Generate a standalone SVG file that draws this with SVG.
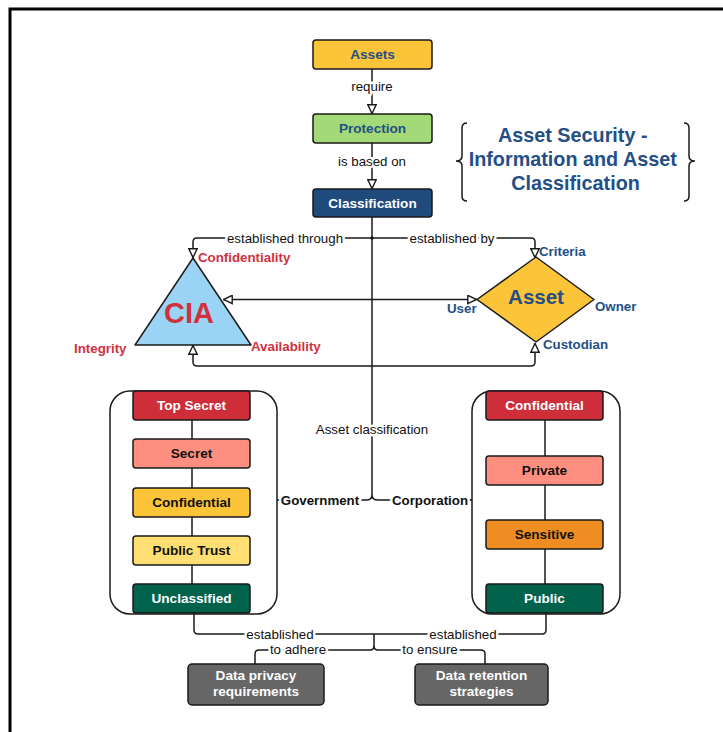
<svg xmlns="http://www.w3.org/2000/svg" width="723" height="732" viewBox="0 0 723 732">
  <style>
    text { font-family: "Liberation Sans", Arial, sans-serif; }
    .box { stroke: #1a1a1a; stroke-width: 1.5; }
    .bl { font-size: 13.6px; font-weight: bold; text-anchor: middle; }
    .w { fill: #ffffff; }
    .k { fill: #111111; }
    .blue { fill: #234f86; }
    .red { fill: #d1313d; }
    .lbl { font-size: 13.3px; fill: #111111; text-anchor: middle; stroke: #ffffff; stroke-width: 5; paint-order: stroke; stroke-linejoin: round; }
    .blbl { font-size: 13.3px; font-weight: bold; fill: #111111; text-anchor: middle; stroke: #ffffff; stroke-width: 5; paint-order: stroke; stroke-linejoin: round; }
    .ln { fill: none; stroke: #1a1a1a; stroke-width: 1.5; }
    .tag { font-size: 13.3px; font-weight: bold; }
  </style>
  <defs>
    <marker id="open" viewBox="0 0 10 10" refX="10" refY="5" markerWidth="11" markerHeight="10" orient="auto-start-reverse" markerUnits="userSpaceOnUse">
      <path d="M0.8,0.8 L9.5,5 L0.8,9.2 Z" fill="#ffffff" stroke="#1a1a1a" stroke-width="1.4"/>
    </marker>
    <marker id="small" viewBox="0 0 10 10" refX="10" refY="5" markerWidth="5" markerHeight="5" orient="auto-start-reverse" markerUnits="userSpaceOnUse">
      <path d="M0,0 L10,5 L0,10 Z" fill="#1a1a1a"/>
    </marker>
  </defs>

  <rect width="723" height="732" fill="#ffffff"/>
  <!-- page frame -->
  <rect x="10" y="9" width="760" height="760" fill="none" stroke="#000000" stroke-width="3"/>

  <!-- connectors -->
  <g id="connectors">
    <line class="ln" x1="372" y1="69" x2="372" y2="114" marker-end="url(#open)"/>
    <line class="ln" x1="372" y1="143" x2="372" y2="189" marker-end="url(#open)"/>
    <!-- trunk from Classification down to the Government / Corporation split -->
    <path class="ln" d="M372,217 V495"/>
    <path class="ln" d="M277,500 H366 Q372,500 372,495 Q372,500 378,500 H472" marker-start="url(#small)" marker-end="url(#small)"/>
    <!-- Classification to CIA and Asset -->
    <path class="ln" d="M372,238 H197 Q193,238 193,242 V258" marker-end="url(#open)"/>
    <path class="ln" d="M372,238 H531 Q535,238 535,242 V258" marker-end="url(#open)"/>
    <circle cx="372" cy="238" r="1.8" fill="#1a1a1a"/>
    <!-- CIA and Asset links -->
    <line class="ln" x1="223" y1="299.5" x2="477" y2="299.5" marker-start="url(#open)" marker-end="url(#open)"/>
    <path class="ln" d="M193,345 V362 Q193,366 197,366 H531 Q535,366 535,362 V343" marker-start="url(#open)" marker-end="url(#open)"/>
    <!-- level chains -->
    <path class="ln" d="M192,420 V439 M192,468 V488 M192,517 V536 M192,565 V584"/>
    <path class="ln" d="M545,420 V456 M545,485 V520 M545,549 V584"/>
    <!-- bottom outcomes -->
    <path class="ln" d="M194,613 V630 Q194,634 198,634 H542 Q546,634 546,630 V613"/>
    <path class="ln" d="M374,634 V646 Q374,650 370,650 H259 Q255,650 255,654 V664"/>
    <path class="ln" d="M374,646 Q374,650 378,650 H481 Q485,650 485,654 V664"/>
    <text class="lbl" x="372" y="91">require</text>
    <text class="lbl" x="372" y="166">is based on</text>
    <text class="lbl" x="285" y="242.5">established through</text>
    <text class="lbl" x="452" y="242.5">established by</text>
    <text class="lbl" x="372" y="434">Asset classification</text>
    <text class="blbl" x="320" y="505">Government</text>
    <text class="blbl" x="430" y="505">Corporation</text>
    <text class="lbl" x="280" y="638.5">established</text>
    <text class="lbl" x="463" y="638.5">established</text>
    <text class="lbl" x="298" y="654">to adhere</text>
    <text class="lbl" x="430" y="654">to ensure</text>
  </g>

  <g id="assets">
    <rect class="box" x="313" y="40" width="119" height="29" rx="3" fill="#fcc438"/>
    <text class="bl blue" x="372.5" y="59">Assets</text>
  </g>
  <g id="protection">
    <rect class="box" x="313" y="114" width="119" height="29" rx="3" fill="#a3d977"/>
    <text class="bl blue" x="372.5" y="133">Protection</text>
  </g>
  <g id="classification">
    <rect class="box" x="313" y="189" width="119" height="28" rx="3" fill="#1e4a7c"/>
    <text class="bl w" x="372.5" y="207.5">Classification</text>
  </g>

  <g id="title">
    <path class="ln" d="M467,123 Q462,123 462,128 V156 Q462,161 456,161 Q462,161 462,166 V196 Q462,201 467,201"/>
    <path class="ln" d="M684,123 Q689,123 689,128 V156 Q689,161 695,161 Q689,161 689,166 V196 Q689,201 684,201"/>
    <text class="blue" font-size="19.8" font-weight="bold" text-anchor="middle">
      <tspan x="575.5" y="142">Asset Security -</tspan>
      <tspan x="575.5" y="166">Information and Asset</tspan>
      <tspan x="575.5" y="190">Classification</tspan>
    </text>
  </g>

  <g id="cia">
    <path class="box" d="M193,258 L251,345 L135,345 Z" fill="#9bd3f4" stroke-linejoin="round"/>
    <text class="red" x="189" y="323" font-size="29" font-weight="bold" text-anchor="middle">CIA</text>
    <text class="tag red" x="198" y="262">Confidentiality</text>
    <text class="tag red" x="74" y="353">Integrity</text>
    <text class="tag red" x="251" y="351">Availability</text>
  </g>

  <g id="asset">
    <path class="box" d="M536,257 L594,299.5 L536,342 L477,299.5 Z" fill="#fcc438" stroke-linejoin="round"/>
    <text class="blue" x="536" y="304" font-size="20.5" font-weight="bold" text-anchor="middle">Asset</text>
    <text class="tag blue" x="539" y="256">Criteria</text>
    <text class="tag blue" x="447" y="313">User</text>
    <text class="tag blue" x="595" y="311">Owner</text>
    <text class="tag blue" x="543" y="349">Custodian</text>
  </g>

  <g id="government">
    <rect x="110" y="391" width="167" height="223" rx="20" fill="none" stroke="#1a1a1a" stroke-width="1.5"/>
    <g id="gov-top-secret">
      <rect class="box" x="133" y="391" width="117" height="29" rx="3" fill="#cd2e3a"/>
      <text class="bl w" x="191.5" y="410">Top Secret</text>
    </g>
    <g id="gov-secret">
      <rect class="box" x="133" y="439" width="117" height="29" rx="3" fill="#fe8f80"/>
      <text class="bl k" x="191.5" y="458">Secret</text>
    </g>
    <g id="gov-confidential">
      <rect class="box" x="133" y="488" width="117" height="29" rx="3" fill="#fcc438"/>
      <text class="bl k" x="191.5" y="507">Confidential</text>
    </g>
    <g id="gov-public-trust">
      <rect class="box" x="133" y="536" width="117" height="29" rx="3" fill="#ffdf71"/>
      <text class="bl k" x="191.5" y="555">Public Trust</text>
    </g>
    <g id="gov-unclassified">
      <rect class="box" x="133" y="584" width="117" height="29" rx="3" fill="#02634d"/>
      <text class="bl w" x="191.5" y="603">Unclassified</text>
    </g>
  </g>

  <g id="corporation">
    <rect x="472" y="391" width="148" height="223" rx="20" fill="none" stroke="#1a1a1a" stroke-width="1.5"/>
    <g id="corp-confidential">
      <rect class="box" x="486" y="391" width="117" height="29" rx="3" fill="#cd2e3a"/>
      <text class="bl w" x="544.5" y="410">Confidential</text>
    </g>
    <g id="corp-private">
      <rect class="box" x="486" y="456" width="117" height="29" rx="3" fill="#fe8f80"/>
      <text class="bl k" x="544.5" y="475">Private</text>
    </g>
    <g id="corp-sensitive">
      <rect class="box" x="486" y="520" width="117" height="29" rx="3" fill="#ef8d22"/>
      <text class="bl k" x="544.5" y="539">Sensitive</text>
    </g>
    <g id="corp-public">
      <rect class="box" x="486" y="584" width="117" height="29" rx="3" fill="#02634d"/>
      <text class="bl w" x="544.5" y="603">Public</text>
    </g>
  </g>

  <g id="data-privacy">
    <rect class="box" x="188" y="664" width="136" height="41" rx="4" fill="#666666"/>
    <text class="bl w" x="256" y="680">Data privacy</text>
    <text class="bl w" x="256" y="696">requirements</text>
  </g>
  <g id="data-retention">
    <rect class="box" x="415" y="664" width="133" height="41" rx="4" fill="#666666"/>
    <text class="bl w" x="481.5" y="680">Data retention</text>
    <text class="bl w" x="481.5" y="696">strategies</text>
  </g>
</svg>
